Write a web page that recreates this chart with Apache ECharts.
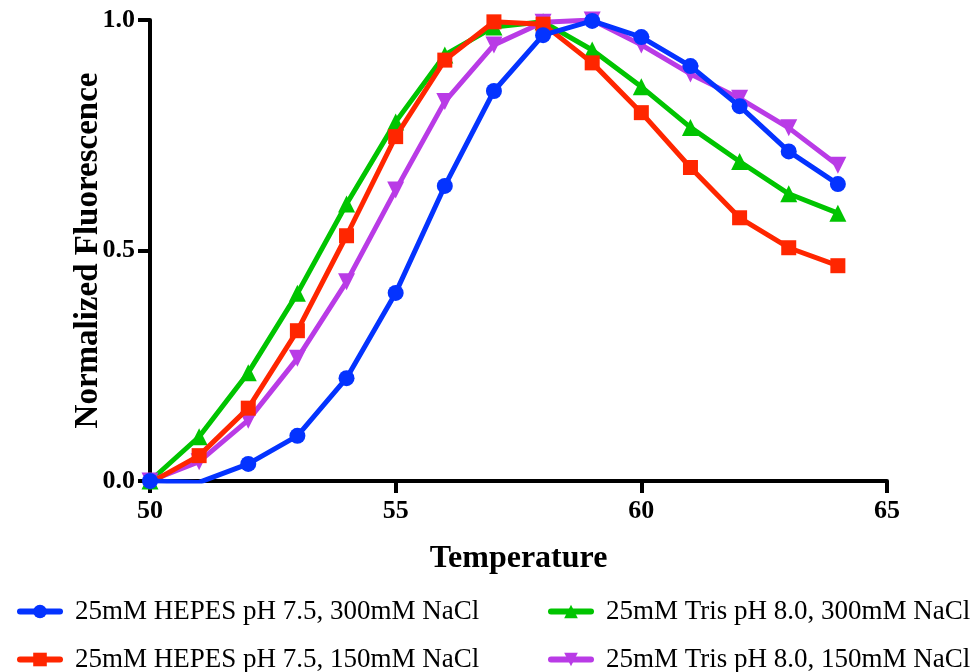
<!DOCTYPE html>
<html>
<head>
<meta charset="utf-8">
<script src="https://cdn.jsdelivr.net/npm/echarts@6/dist/echarts.min.js"></script>
<style>html,body{margin:0;padding:0;background:#fff}#c{width:979px;height:672px}</style>
</head>
<body>
<div id="c"></div>
<script>
const temperatures = [50,51,52,53,54,55,56,57,58,59,60,61,62,63,64];
const hepes300 = [0.0,-0.003,0.037,0.098,0.223,0.408,0.640,0.846,0.967,0.998,0.963,0.900,0.813,0.715,0.644];
const hepes150 = [-0.004,0.055,0.158,0.326,0.532,0.747,0.913,0.996,0.991,0.907,0.799,0.680,0.571,0.506,0.467];
const tris300  = [0.0,0.096,0.235,0.407,0.601,0.779,0.924,0.985,0.996,0.935,0.855,0.767,0.693,0.623,0.581];
const tris150  = [0.0,0.042,0.132,0.266,0.432,0.631,0.823,0.946,0.995,1.0,0.946,0.883,0.830,0.766,0.685];
const xTicks = [50,55,60,65];
const yTicks = [0.0,0.5,1.0];
const seriesNames = ['25mM HEPES pH 7.5, 300mM NaCl','25mM HEPES pH 7.5, 150mM NaCl','25mM Tris pH 8.0, 300mM NaCl','25mM Tris pH 8.0, 150mM NaCl'];

const font = '"Liberation Serif", "Times New Roman", serif';
const colors = ['#0433FF','#FF2600','#00C400','#B93BE6'];
const symbols = ['circle','rect','triangle','path://M0,0 L10,0 L5,9 Z'];
const sizes = [16,15,17,17];
const datas = [hepes300,hepes150,tris300,tris150];

const series = datas.map((d,i)=>({
  name: seriesNames[i],
  type:'line',
  data: d.map((v,j)=>[temperatures[j],v]),
  symbol: symbols[i],
  symbolSize: sizes[i],
  showAllSymbol: true,
  lineStyle:{width:5,color:colors[i]},
  itemStyle:{color:colors[i]},
  z: [5,4,2,3][i],
  animation:false
}));

const legendPos = [[12,593],[12,641],[543,593],[543,641]];
const legends = seriesNames.map((n,i)=>({
  data:[n],
  left: legendPos[i][0],
  top: legendPos[i][1],
  itemWidth:40,
  itemHeight:17,
  lineStyle:{width:6,cap:'round'},
  textStyle:{fontFamily:font,fontSize:27,color:'#000',padding:[0,0,0,10]},
  selectedMode:false
}));

const chart = echarts.init(document.getElementById('c'));
chart.setOption({
  backgroundColor:'#fff',
  animation:false,
  color: colors,
  legend: legends,
  grid:{left:150,right:92,top:20,bottom:191,containLabel:false},
  xAxis:{
    type:'value', min:xTicks[0], max:xTicks[xTicks.length-1], interval:5,
    name:'Temperature', nameLocation:'middle', nameGap:62,
    nameTextStyle:{fontFamily:font,fontSize:32,fontWeight:'bold',color:'#000'},
    axisLine:{onZero:false,lineStyle:{color:'#000',width:4}},
    axisTick:{show:true,length:12,lineStyle:{color:'#000',width:4}},
    axisLabel:{fontFamily:font,fontSize:26,fontWeight:'bold',color:'#000',margin:17},
    splitLine:{show:false}
  },
  yAxis:{
    type:'value', min:yTicks[0], max:yTicks[yTicks.length-1], interval:0.5,
    name:'Normalized Fluorescence', nameLocation:'middle', nameGap:45,
    nameMoveOverlap:false,
    nameTextStyle:{fontFamily:font,fontSize:33,fontWeight:'bold',color:'#000'},
    axisLine:{show:true,onZero:false,lineStyle:{color:'#000',width:4}},
    axisTick:{show:true,length:12,lineStyle:{color:'#000',width:4}},
    axisLabel:{fontFamily:font,fontSize:26,fontWeight:'bold',color:'#000',margin:15,
      formatter:v=>v.toFixed(1)},
    splitLine:{show:false}
  },
  series
});
</script>
</body>
</html>
